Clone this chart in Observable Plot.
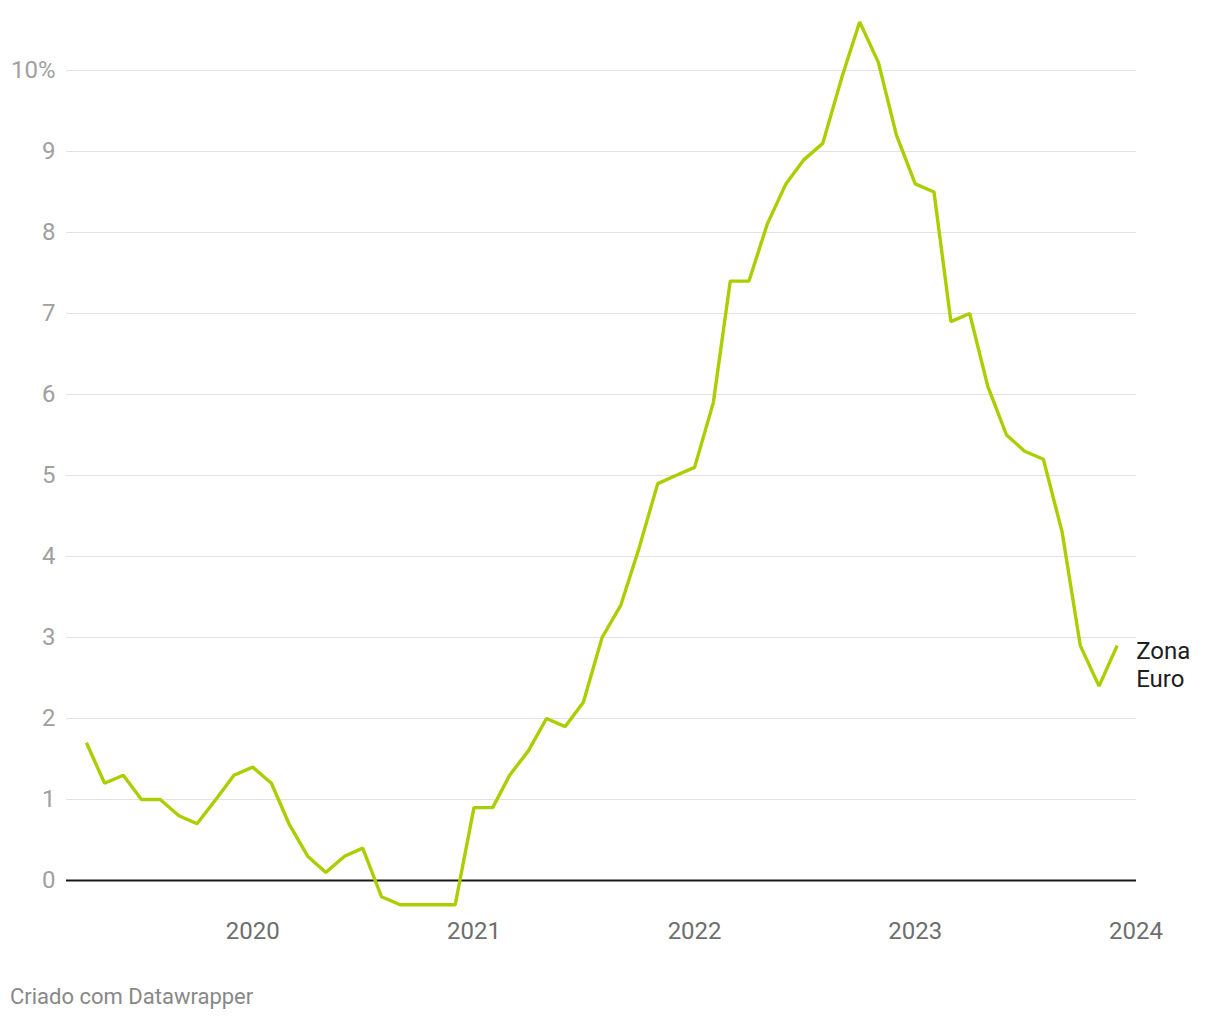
<!DOCTYPE html>
<html>
<head>
<meta charset="utf-8">
<script src="https://cdn.jsdelivr.net/npm/d3@7"></script>
<script src="https://cdn.jsdelivr.net/npm/@observablehq/plot@0.6"></script>
<style>
  html, body { margin: 0; padding: 0; background: #fff; }
  body { width: 1220px; font-family: Roboto, sans-serif; }
  #footer { font-family: Roboto, sans-serif; font-size: 22px; color: #888; line-height: 24px; padding-left: 10px; margin-top: 5px; }
</style>
</head>
<body>
<div id="chart"></div>
<div id="footer">Criado com Datawrapper</div>
<script>
// Monthly months, April 2019 – December 2023
const startMonth = "2019-04";
const inflation = [
  1.7, 1.2, 1.3, 1.0, 1.0, 0.8, 0.7, 1.0, 1.3,            // Apr–Dec 2019
  1.4, 1.2, 0.7, 0.3, 0.1, 0.3, 0.4, -0.2, -0.3, -0.3, -0.3, -0.3, // 2020
  0.9, 0.9, 1.3, 1.6, 2.0, 1.9, 2.2, 3.0, 3.4, 4.1, 4.9, 5.0,     // 2021
  5.1, 5.9, 7.4, 7.4, 8.1, 8.6, 8.9, 9.1, 9.9, 10.6, 10.1, 9.2,   // 2022
  8.6, 8.5, 6.9, 7.0, 6.1, 5.5, 5.3, 5.2, 4.3, 2.9, 2.4, 2.9      // 2023
];
const yTicks = [0, 1, 2, 3, 4, 5, 6, 7, 8, 9, 10];
const xTickYears = [2020, 2021, 2022, 2023, 2024];
const seriesLabel = "Zona\nEuro";

const [sy, sm] = startMonth.split("-").map(Number);
const data = inflation.map((v, i) => ({ date: new Date(Date.UTC(sy, sm - 1 + i, 1)), value: v }));
const xTicks = xTickYears.map(y => new Date(Date.UTC(y, 0, 1)));
const last = data[data.length - 1];

const chart = Plot.plot({
  width: 1220,
  height: 980,
  marginLeft: 66,
  marginRight: 84,
  marginTop: 70,
  marginBottom: 100,
  style: { fontFamily: "Roboto, sans-serif", background: "#fff" },
  x: { type: "utc", domain: [new Date(Date.UTC(2019, 1, 27)), new Date(Date.UTC(2024, 0, 2))] },
  y: { domain: [0, 10] },
  marks: [
    Plot.ruleY(yTicks.filter(d => d !== 0), { stroke: "#e2e2e2", strokeWidth: 1.2 }),
    Plot.axisY({ ticks: yTicks, tickSize: 0, tickPadding: 11, label: null, fontSize: 24, color: "#a0a0a0",
      tickFormat: d => d === 10 ? "10%" : String(d) }),
    Plot.axisX({ ticks: xTicks, tickSize: 0, tickPadding: 41, label: null, fontSize: 24, color: "#6e6e6e",
      tickFormat: d => String(d.getUTCFullYear()) }),
    Plot.ruleY([0], { stroke: "#1a1a1a", strokeWidth: 1.8 }),
    Plot.line(data, { x: "date", y: "value", stroke: "#a9cf00", strokeWidth: 3.4, strokeLinejoin: "miter", strokeLinecap: "butt" }),
    Plot.text([last], { x: "date", y: "value", text: () => seriesLabel, textAnchor: "start", lineAnchor: "middle",
      dx: 19, dy: 18, fontSize: 24, fill: "#1d1d1d", lineHeight: 1.17 })
  ]
});
document.getElementById("chart").appendChild(chart);
</script>
</body>
</html>
